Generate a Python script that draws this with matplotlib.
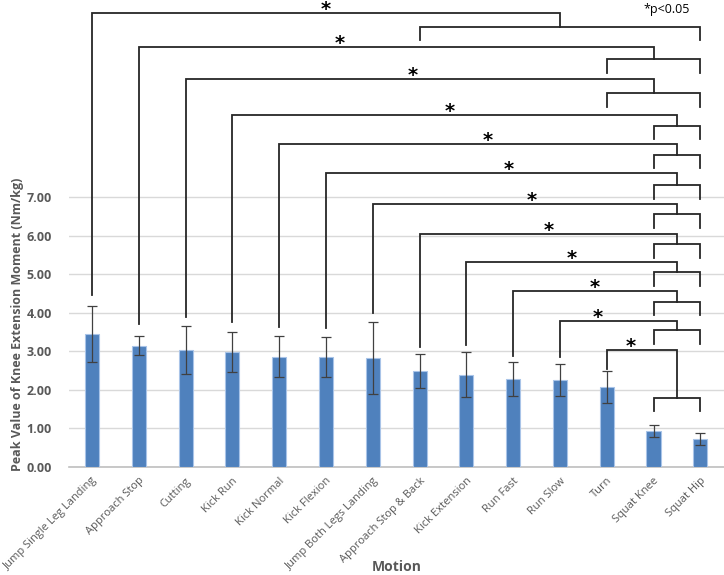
import matplotlib
matplotlib.use('Agg')
import matplotlib.pyplot as plt

# bar data
motions = ['Jump Single Leg Landing', 'Approach Stop', 'Cutting', 'Kick Run', 'Kick Normal',
           'Kick Flexion', 'Jump Both Legs Landing', 'Approach Stop & Back', 'Kick Extension',
           'Run Fast', 'Run Slow', 'Turn', 'Squat Knee', 'Squat Hip']
peak = [3.44, 3.15, 3.03, 2.99, 2.86, 2.85, 2.82, 2.49, 2.39, 2.28, 2.26, 2.08, 0.93, 0.73]
sd = [0.73, 0.24, 0.62, 0.52, 0.53, 0.51, 0.94, 0.44, 0.58, 0.45, 0.42, 0.42, 0.15, 0.15]

# significance brackets: motion index -> group it differs from
sig_from = [0, 1, 2, 3, 4, 5, 6, 7, 8, 9, 10, 11]
sig_group = [(7, 13), (11, 13), (11, 13), (12, 13), (12, 13), (12, 13), (12, 13),
             (12, 13), (12, 13), (12, 13), (12, 13), (12, 13)]
line_h = [11.77, 10.89, 10.06, 9.13, 8.37, 7.62, 6.82, 6.04, 5.32, 4.56, 3.79, 3.03]
group_h = [11.41, 10.58, 9.70, 8.84, 8.09, 7.31, 6.56, 5.78, 5.06, 4.28, 3.55, 1.79]
leg_h = [11.07, 10.22, 9.33, 8.50, 7.75, 6.95, 6.20, 5.42, 4.69, 3.94, 3.19, 1.45]
start_h = [4.46, 3.71, 3.89, 3.75, 3.62, 3.60, 3.98, 3.11, 3.16, 2.88, 2.85, 2.54]
# where the star sits along each bracket (category units)
star_x = [5.0, 5.3, 6.86, 7.65, 8.46, 8.91, 9.40, 9.77, 10.26, 10.75, 10.81, 11.52]

grey = '#595959'
fig = plt.figure(figsize=(7.24, 5.75), dpi=100)
ax = fig.add_axes([68.6 / 724, 108 / 575, (723.7 - 68.6) / 724, 467 / 575])

x = list(range(len(motions)))
ax.bar(x, peak, width=0.3, color='#4F81BD', edgecolor='#A9C4E8', linewidth=0.8, zorder=3)
ax.errorbar(x, peak, yerr=sd, fmt='none', ecolor='#404040', elinewidth=0.9,
            capsize=3.5, capthick=0.9, zorder=4)

ax.set_xlim(-0.5, len(motions) - 0.5)
ax.set_ylim(0, 467 / 38.57)
ax.set_yticks(range(8))
ax.set_yticklabels(['%.2f' % v for v in range(8)], fontsize=9, fontweight='bold',
                   color=grey, family='Open Sans')
ax.yaxis.grid(True, color='#d9d9d9', linewidth=1, zorder=0)
ax.tick_params(axis='both', length=0)
ax.tick_params(axis='y', pad=12)
ax.set_xticks(x)
ax.set_xticklabels(motions, rotation=45, ha='right', va='top', rotation_mode='anchor',
                   fontsize=8, color=grey, family='Open Sans')
ax.tick_params(axis='x', pad=6)
for s in ['top', 'right', 'left']:
    ax.spines[s].set_visible(False)
ax.spines['bottom'].set_color('#bfbfbf')
ax.spines['bottom'].set_linewidth(1.2)

lc = '#262626'
lw = 1.3
for i in range(len(sig_from)):
    a = sig_from[i]
    g0, g1 = sig_group[i]
    mid = (g0 + g1) / 2
    ax.plot([a, a, mid, mid], [start_h[i], line_h[i], line_h[i], group_h[i]],
            color=lc, lw=lw, solid_joinstyle='miter', zorder=5)
    ax.plot([g0, g0, g1, g1], [leg_h[i], group_h[i], group_h[i], leg_h[i]],
            color=lc, lw=lw, solid_joinstyle='miter', zorder=5)
    ax.text(star_x[i], line_h[i] - 0.06, '*', ha='center', va='baseline',
            fontsize=14, fontweight='bold', color='black', zorder=6)

fig.text(690 / 724, 1 - 10 / 575, '*p<0.05', ha='right', va='center', fontsize=9,
         family='Open Sans', color='black')
fig.text(18 / 724, 1 - 324 / 575, 'Peak Value of Knee Extension Moment (Nm/kg)',
         rotation=90, ha='center', va='center', fontsize=9, fontweight='bold',
         color=grey, family='Open Sans')
fig.text(397 / 724, 1 - 567 / 575, 'Motion', ha='center', va='center', fontsize=10,
         fontweight='bold', color=grey, family='Open Sans')

fig.savefig('out.png', dpi=100)
